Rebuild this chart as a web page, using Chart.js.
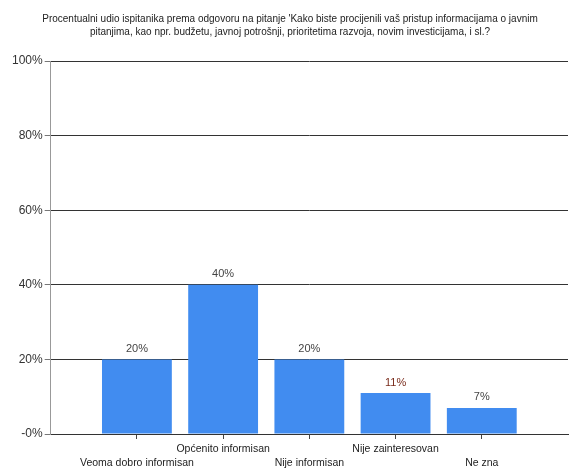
<!DOCTYPE html>
<html>
<head>
<meta charset="utf-8">
<script src="https://cdn.jsdelivr.net/npm/chart.js@4"></script>
<style>
  html, body { margin: 0; padding: 0; background: #fff; }
  #wrap { width: 571px; height: 468px; }
</style>
</head>
<body>
<div id="wrap"><canvas id="chart" width="571" height="468"></canvas></div>
<script>
// odgovori (prazna mjesta na krajevima daju razmak kao u originalu)
let kategorije = ['', 'Veoma dobro informisan', 'Općenito informisan', 'Nije informisan', 'Nije zainteresovan', 'Ne zna', ''];
let procenti = [null, 20, 40, 20, 11, 7, null];
let oznake = ['', '20%', '40%', '20%', '11%', '7%', ''];
let bojeOznaka = ['#444', '#444', '#444', '#444', '#7a2c1c', '#444', '#444'];
let naslov = ["Procentualni udio ispitanika prema odgovoru na pitanje 'Kako biste procijenili vaš pristup informacijama o javnim",
    "pitanjima, kao npr. budžetu, javnoj potrošnji, prioritetima razvoja, novim investicijama, i sl.?"];

// naizmjenicno gornji i donji red za oznake kategorija
let xLabele = kategorije.map((k, i) => (i % 2 === 1 ? ['', k] : [k, '']));

const oznakePlugin = {
    id: 'oznake',
    afterDatasetsDraw(chart) {
        const ctx = chart.ctx;
        const meta = chart.getDatasetMeta(0);
        ctx.save();
        ctx.font = '11px "Liberation Sans", Arial, sans-serif';
        ctx.textAlign = 'center';
        ctx.textBaseline = 'bottom';
        meta.data.forEach((bar, i) => {
            if (procenti[i] === null) return;
            ctx.fillStyle = bojeOznaka[i];
            ctx.fillText(oznake[i], bar.x, bar.y - 5);
        });
        ctx.restore();
    }
};

new Chart(document.getElementById('chart'), {
    type: 'bar',
    data: {
        labels: xLabele,
        datasets: [{
            data: procenti,
            backgroundColor: '#418cf0',
            borderWidth: 0,
            barPercentage: 0.81,
            categoryPercentage: 1
        }]
    },
    options: {
        responsive: false,
        animation: false,
        layout: { padding: { left: 10, right: 1, top: 0, bottom: 0 } },
        plugins: {
            legend: { display: false },
            tooltip: { enabled: false },
            title: {
                display: true,
                text: naslov,
                color: '#222',
                font: { family: '"Liberation Sans", Arial, sans-serif', size: 10, weight: 'normal', lineHeight: 1.3 },
                padding: { top: 13, bottom: 22 }
            }
        },
        scales: {
            x: {
                offset: false,
                afterFit: (scale) => { scale.height = 34; },
                grid: {
                    offset: false,
                    drawOnChartArea: false,
                    drawTicks: true,
                    tickLength: 5,
                    color: (c) => (c.index === 0 || c.index === 6 ? 'rgba(0,0,0,0)' : '#444')
                },
                border: { display: true, color: '#333' },
                ticks: {
                    maxRotation: 0,
                    autoSkip: false,
                    color: '#222',
                    padding: 3,
                    font: { family: '"Liberation Sans", Arial, sans-serif', size: 10.5, lineHeight: 1.33 }
                }
            },
            y: {
                min: 0,
                max: 100,
                ticks: {
                    stepSize: 20,
                    color: '#333',
                    padding: 2,
                    font: { family: '"Liberation Sans", Arial, sans-serif', size: 12 },
                    callback: (v) => (v === 0 ? '-0%' : v + '%')
                },
                grid: {
                    color: '#333',
                    tickColor: '#777',
                    tickLength: 6
                },
                border: { display: true, color: '#999' }
            }
        }
    },
    plugins: [oznakePlugin]
});
</script>
</body>
</html>
